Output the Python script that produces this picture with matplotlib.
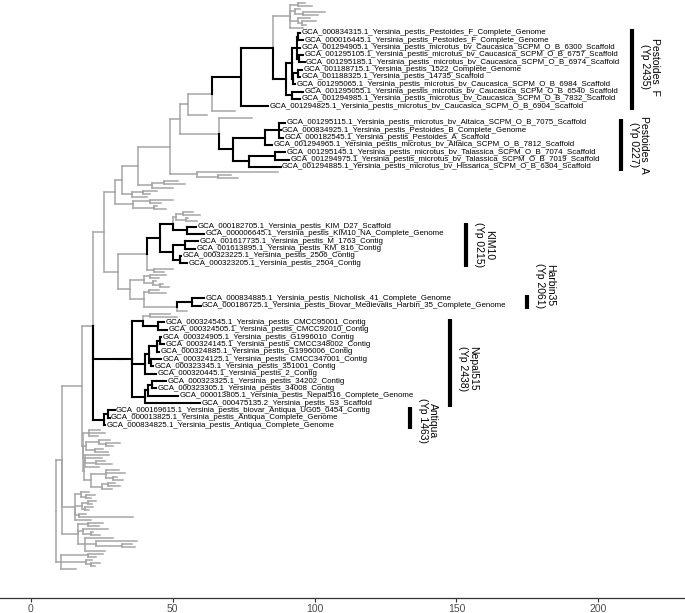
import matplotlib
matplotlib.use("Agg")
import matplotlib.pyplot as plt
from matplotlib.collections import LineCollection

plt.rcParams['font.family'] = ['Liberation Sans', 'DejaVu Sans']

# ---------------- DATA: tree in Newick-like pieces ----------------
# value after ':' = node position on the horizontal scale (distance from root)
# '#NAME' marks the most recent common ancestor of a highlighted clade
TOP_GRAY = ("((:96.6,:99.1):94.0,(:94.9,(:103.7,:101.2):96.0):93.0,"
            "(:98.4,(:100.5,:97.0):95.5):94.0,:96.0):91.3")
PF_INNER = ("((((GCA_000834315.1_Yersinia_pestis_Pestoides_F_Complete_Genome:94.8,"
            "GCA_000016445.1_Yersinia_pestis_Pestoides_F_Complete_Genome:95.9):94.2,"
            "GCA_001294905.1_Yersinia_pestis_microtus_bv_Caucasica_SCPM_O_B_6300_Scaffold:94.8,"
            "(GCA_001295105.1_Yersinia_pestis_microtus_bv_Caucasica_SCPM_O_B_6757_Scaffold:95.9,"
            "GCA_001295185.1_Yersinia_pestis_microtus_bv_Caucasica_SCPM_O_B_6974_Scaffold:96.5):94.5):93.7,"
            "((GCA_001188715.1_Yersinia_pestis_1522_Complete_Genome:95.7,"
            "GCA_001188325.1_Yersinia_pestis_14735_Scaffold:94.8):94.3,"
            "GCA_001295065.1_Yersinia_pestis_microtus_bv_Caucasica_SCPM_O_B_6984_Scaffold:93.0):92.4):91.9,"
            "(GCA_001295055.1_Yersinia_pestis_microtus_bv_Caucasica_SCPM_O_B_6540_Scaffold:95.9,"
            "GCA_001294985.1_Yersinia_pestis_microtus_bv_Caucasica_SCPM_O_B_7832_Scaffold:94.8):91.9):89.9")
PEST_F = ("((" + TOP_GRAY + "," + PF_INNER + "):85.3,"
          "GCA_001294825.1_Yersinia_pestis_microtus_bv_Caucasica_SCPM_O_B_6904_Scaffold:83.6)#PF:74.0")
PEST_A = ("(((GCA_001295115.1_Yersinia_pestis_microtus_bv_Altaica_SCPM_O_B_7075_Scaffold:89.7,"
          "GCA_000834925.1_Yersinia_pestis_Pestoides_B_Complete_Genome:88.0,"
          "GCA_000182545.1_Yersinia_pestis_Pestoides_A_Scaffold:88.9):87.6,"
          "GCA_001294965.1_Yersinia_pestis_microtus_bv_Altaica_SCPM_O_B_7812_Scaffold:85.0):82.5,"
          "((GCA_001295145.1_Yersinia_pestis_microtus_bv_Talassica_SCPM_O_B_7074_Scaffold:89.7,"
          "GCA_001294975.1_Yersinia_pestis_microtus_bv_Talassica_SCPM_O_B_7019_Scaffold:90.9):86.0,"
          "GCA_001294885.1_Yersinia_pestis_microtus_bv_Hissarica_SCPM_O_B_6304_Scaffold:88.0):76.9)#PA:71.2")
KIM = ("((((:57.0,:59.5):53.5,(:55.5,:58.5):54.5):51.0,"
       "(GCA_000182705.1_Yersinia_pestis_KIM_D27_Scaffold:58.3,"
       "GCA_000006645.1_Yersinia_pestis_KIM10_NA_Complete_Genome:61.0):54.9):50.2,"
       "((GCA_001617735.1_Yersinia_pestis_M_1763_Contig:58.9,"
       "GCA_001613895.1_Yersinia_pestis_KM_816_Contig:57.9):54.3,"
       "(GCA_000323225.1_Yersinia_pestis_2506_Contig:53.0,"
       "GCA_000323205.1_Yersinia_pestis_2504_Contig:55.1):52.5):50.2)#KIM:45.5")
HARBIN = ("(GCA_000834885.1_Yersinia_pestis_Nicholisk_41_Complete_Genome:61.0,"
          "GCA_000186725.1_Yersinia_pestis_biovar_Medievalis_Harbin_35_Complete_Genome:59.8)#HARB:56.6")
NEPAL = ("(((:49.0,:51.5):42.0,"
         "(GCA_000324545.1_Yersinia_pestis_CMCC95001_Contig:46.9,"
         "GCA_000324505.1_Yersinia_pestis_CMCC92010_Contig:48.1):44.9):39.6,"
         "((((GCA_000324905.1_Yersinia_pestis_G1996010_Contig:45.9,"
         "GCA_000324145.1_Yersinia_pestis_CMCC348002_Contig:46.9):45.4,"
         "GCA_000324885.1_Yersinia_pestis_G1996006_Contig:45.1):44.6,"
         "(GCA_000324125.1_Yersinia_pestis_CMCC347001_Contig:45.9,"
         "GCA_000323345.1_Yersinia_pestis_351001_Contig:43.0):42.3):41.6,"
         "GCA_000320445.1_Yersinia_pestis_2_Contig:44.2):40.2,"
         "(((GCA_000323325.1_Yersinia_pestis_34202_Contig:47.7,"
         "GCA_000323305.1_Yersinia_pestis_34008_Contig:44.2):42.8,"
         "GCA_000013805.1_Yersinia_pestis_Nepal516_Complete_Genome:51.8):41.2,"
         "GCA_000475135.2_Yersinia_pestis_S3_Scaffold:59.5):40.2):35.5)#NEP:31.4")
ANTIQUA = ("((GCA_000169615.1_Yersinia_pestis_biovar_Antiqua_UG05_0454_Contig:29.5,"
           "GCA_000013825.1_Yersinia_pestis_Antiqua_Complete_Genome:27.7):27.0,"
           "GCA_000834825.1_Yersinia_pestis_Antiqua_Complete_Genome:26.0)#ANT:25.6")

UPPER_LADDER = ("(((((((" + PEST_F + ",:72.0):63.9,:62.0):55.5,"
                "(:78.0," + PEST_A + "):66.3):52.5,"
                "(:87.1,(:70.5,:73.0):66.0):58.5):49.0,"
                "((:52.0,:54.3):47.0,:50.0):42.5):37.7,"
                "((:44.4,:42.0):39.5,:41.0):35.5):32.0,"
                "((:50.0,:46.0):42.0,(:44.5,:47.5):43.5):36.0):29.6")
MIDDLE = ("((" + KIM + ",(:50.0,:47.0):43.5):41.0,"
          "(((:47.5,:45.0):42.0,(:44.0,(:46.5,:48.5):45.5):43.0):40.0,"
          "((:45.0,:47.5):41.5,(" + HARBIN + ",:55.0):51.4):40.0):34.9):30.7")
CORE = "((" + UPPER_LADDER + "," + MIDDLE + "):25.7,(" + NEPAL + "," + ANTIQUA + "):21.9):20.1"
LOWER_LADDER = ("(" + CORE + ",((:24.5,:26.0,:23.5):20.5,"
                "(((:28.0,(:31.5,:29.0):26.5):24.0,(:25.5,:27.0):22.5):19.5,"
                "((:27.5,:25.0,(:26.0,:28.5):23.0,:24.0):19.0,"
                "((:31.0,:33.0,(:30.5,:32.5):29.0):26.5,((:29.5,:31.5):27.0,:28.5):25.0):21.0):18.6):18.4):18.2):17.9")
BASE_M = ("((:20.5,(:22.5,:21.0):19.5):17.5,((:23.0,:21.5):20.0,(:22.0,:20.5):19.0):18.0,"
          "(:19.5,:36.0):17.0,:21.0):15.5")
BASE_B = ("((:25.5,:24.0):20.0,(:27.0,(:22.0,:24.5):21.0):18.5,"
          "(:29.0,(:37.5,(:35.5,:36.8):32.0):23.0,:26.0):19.0):16.5")
BASE_A = "((:25.5,:23.0):20.0,(:21.5,(:24.5,:22.5):21.0):19.5,:16.0):10.5"
TREE = "(((" + LOWER_LADDER + "," + BASE_M + "," + BASE_B + "):10.8," + BASE_A + "):8.8,:1.0):0;"

# highlighted clades
GROUP_KEYS = ["#PF", "#PA", "#KIM", "#HARB", "#NEP", "#ANT"]
GROUP_LINE1 = ["Pestoides  F", "Pestoides  A", "KIM10", "Harbin35", "Nepal515", "Antiqua"]
GROUP_LINE2 = ["(Yp 2435)", "(Yp 0227)", "(Yp 0215)", "(Yp 2061)", "(Yp 2438)", "(Yp 1463)"]
X_TICKS = [0, 50, 100, 150, 200]

# ---------------- layout / style ----------------
BAR_X = [211.9, 208.0, 153.4, 174.9, 147.7, 133.6]
TEXT_DY = [-0.4, 0.0, 0.0, -2.3, 0.8, 0.4]
GRAY_SCALE = 0.42
GRAY = "#a6a6a6"


def parse(s):
    pos = 0

    def node():
        nonlocal pos
        children = []
        if s[pos] == '(':
            pos += 1
            while True:
                children.append(node())
                if s[pos] == ',':
                    pos += 1
                    continue
                pos += 1  # ')'
                break
        start = pos
        while pos < len(s) and s[pos] not in ',():;':
            pos += 1
        name = s[start:pos]
        depth = 0.0
        if pos < len(s) and s[pos] == ':':
            pos += 1
            start = pos
            while pos < len(s) and s[pos] not in ',();':
                pos += 1
            depth = float(s[start:pos])
        return {'name': name, 'x': depth, 'children': children}
    return node()


root = parse(TREE)

tips = []


def collect(n, parent, in_group):
    n['parent'] = parent
    n['group'] = in_group or n['name'].startswith('#')
    if not n['children']:
        n['labeled'] = bool(n['name'])
        tips.append(n)
    else:
        for c in n['children']:
            collect(c, n, n['group'])
        n['labeled'] = any(c['labeled'] for c in n['children'])


collect(root, None, False)

prev_s = None
y = 0.0
for t in tips:
    s = 1.0 if t['labeled'] else GRAY_SCALE
    if prev_s is not None:
        y += (prev_s + s) / 2.0
    t['y'] = y
    prev_s = s


def set_y(n):
    if n['children']:
        for c in n['children']:
            set_y(c)
        n['y'] = (n['children'][0]['y'] + n['children'][-1]['y']) / 2.0


set_y(root)

gray_segs, black_segs = [], []


def segs(n):
    for c in n['children']:
        seg_list = black_segs if (c['group'] and c['labeled']) else gray_segs
        seg_list.append([(n['x'], c['y']), (c['x'], c['y'])])
        seg_list.append([(n['x'], n['y']), (n['x'], c['y'])])
        segs(c)


segs(root)

fig = plt.figure(figsize=(6.85, 6.13), dpi=100)
ax = fig.add_axes([0, 15 / 613, 1, 598 / 613])

ax.add_collection(LineCollection(gray_segs, colors=GRAY, linewidths=1.1, capstyle='projecting'))
ax.add_collection(LineCollection(black_segs, colors='black', linewidths=1.5, capstyle='projecting'))

for t in tips:
    if t['labeled']:
        ax.text(t['x'] + 0.5, t['y'], t['name'], fontsize=5.7, va='center', ha='left', color='black')


def find(n, key):
    if n['name'] == key:
        return n
    for c in n['children']:
        r = find(c, key)
        if r is not None:
            return r
    return None


def labeled_tips(n):
    if not n['children']:
        return [n] if n['labeled'] else []
    out = []
    for c in n['children']:
        out += labeled_tips(c)
    return out


for key, l1, l2, bx, dy in zip(GROUP_KEYS, GROUP_LINE1, GROUP_LINE2, BAR_X, TEXT_DY):
    node = find(root, key)
    ys = [t['y'] for t in labeled_tips(node)]
    y0, y1 = min(ys) - 0.5, max(ys) + 0.5
    ax.plot([bx, bx], [y0, y1], color='black', lw=3.0, solid_capstyle='butt')
    ax.text(bx + 6.4, (y0 + y1) / 2 + dy, l1 + "\n" + l2, rotation=-90, fontsize=7.5,
            ha='center', va='center', multialignment='center', linespacing=1.0)

y_first = tips[0]['y']
y_last = tips[-1]['y']
k = (y_last - y_first) / 566.0
ax.set_ylim(y_first + 595 * k, y_first - 3 * k)
ax.set_xlim(-10.93, 230.6)

for side in ['left', 'right', 'top']:
    ax.spines[side].set_visible(False)
ax.spines['bottom'].set_color('#333333')
ax.spines['bottom'].set_linewidth(0.9)
ax.set_yticks([])
ax.set_xticks(X_TICKS)
ax.set_xticklabels([str(v) for v in X_TICKS])
ax.tick_params(axis='x', direction='out', length=3, width=0.8, color='#333333',
               labelsize=7.5, labelcolor='#4d4d4d', pad=1.5)

fig.savefig("out.png", dpi=100)
